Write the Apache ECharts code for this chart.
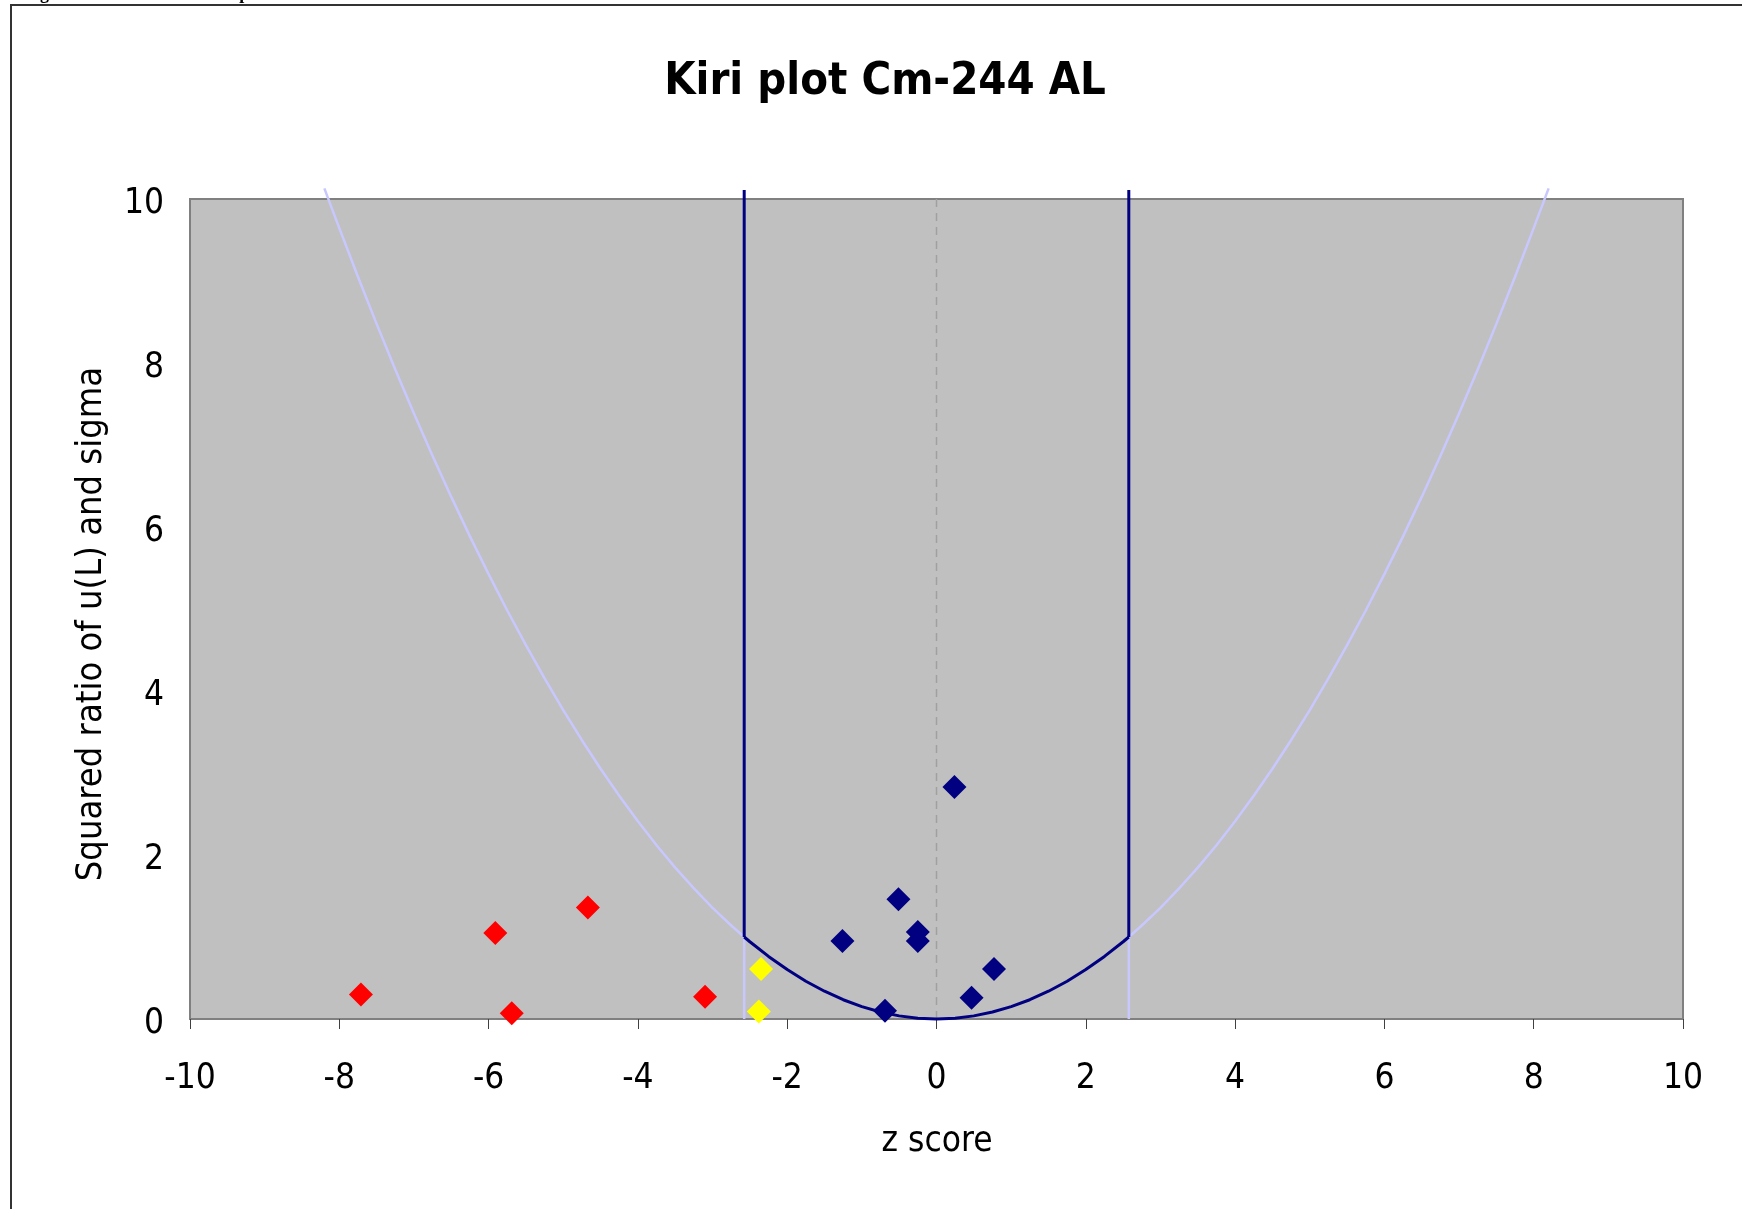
<!DOCTYPE html>
<html>
<head>
<meta charset="utf-8">
<script src="https://cdn.jsdelivr.net/npm/echarts@6/dist/echarts.min.js"></script>
<style>
html,body{margin:0;padding:0;background:#fff;}
#chart{width:1742px;height:1209px;}
</style>
</head>
<body>
<div id="chart"></div>
<script>
// ---- data ----
const titleText = 'Kiri plot Cm-244 AL';
const xAxisTitle = 'z score';
const yAxisTitle = 'Squared ratio of u(L) and sigma';
const captionText = 'Figure 13: Cm-244 AL Kiri plot';

const redPoints = [[-7.71,0.30],[-5.91,1.05],[-4.67,1.36],[-5.69,0.07],[-3.10,0.27]];
const yellowPoints = [[-2.35,0.61],[-2.38,0.09]];
const navyPoints = [[0.24,2.83],[-0.51,1.46],[-0.25,1.06],[-0.25,0.95],[-1.26,0.95],[0.77,0.61],[0.47,0.26],[-0.69,0.10]];

const leftCurve = [[-8.2,10.13],[-8.0,9.645],[-7.75,9.051],[-7.5,8.477],[-7.25,7.921],[-7.0,7.384],[-6.75,6.866],[-6.5,6.367],[-6.25,5.886],[-6.0,5.425],[-5.75,4.982],[-5.5,4.559],[-5.25,4.154],[-5.0,3.767],[-4.75,3.400],[-4.5,3.052],[-4.25,2.722],[-4.0,2.411],[-3.75,2.119],[-3.5,1.846],[-3.25,1.592],[-3.0,1.356],[-2.75,1.140],[-2.576,1.0]];
const middleCurve = [[-2.576,1.0],[-2.5,0.942],[-2.25,0.763],[-2.0,0.603],[-1.75,0.461],[-1.5,0.339],[-1.25,0.235],[-1.0,0.151],[-0.75,0.085],[-0.5,0.038],[-0.25,0.009],[0,0],[0.25,0.009],[0.5,0.038],[0.75,0.085],[1.0,0.151],[1.25,0.235],[1.5,0.339],[1.75,0.461],[2.0,0.603],[2.25,0.763],[2.5,0.942],[2.576,1.0]];
const rightCurve = [[2.576,1.0],[2.75,1.140],[3.0,1.356],[3.25,1.592],[3.5,1.846],[3.75,2.119],[4.0,2.411],[4.25,2.722],[4.5,3.052],[4.75,3.400],[5.0,3.767],[5.25,4.154],[5.5,4.559],[5.75,4.982],[6.0,5.425],[6.25,5.886],[6.5,6.367],[6.75,6.866],[7.0,7.384],[7.25,7.921],[7.5,8.477],[7.75,9.051],[8.0,9.645],[8.2,10.13]];
const leftLimitUpper = [[-2.576,1.0],[-2.576,10.11]];
const rightLimitUpper = [[2.576,1.0],[2.576,10.11]];
const leftLimitLower = [[-2.576,0],[-2.576,1.0]];
const rightLimitLower = [[2.576,0],[2.576,1.0]];
const zeroLine = [[0,0],[0,10]];

const xMin = -10, xMax = 10, xStep = 2;
const yMin = 0, yMax = 10, yStep = 2;

// ---- styles ----
const FONT = "'DejaVu Sans Condensed', 'DejaVu Sans', sans-serif";
const LIGHT = '#C8C8FF';
const NAVY = '#000080';

const chart = echarts.init(document.getElementById('chart'), null, {renderer: 'canvas'});

function lineSeries(data, color, width, type) {
  return {
    type: 'line', data: data, symbol: 'none', clip: false, silent: true,
    lineStyle: {color: color, width: width, type: type || 'solid'},
    z: 2
  };
}
function scatterSeries(data, color) {
  return {
    type: 'scatter', data: data, symbol: 'diamond', symbolSize: 24,
    itemStyle: {color: color, opacity: 1}, z: 5
  };
}

chart.setOption({
  animation: false,
  backgroundColor: '#fff',
  title: {
    text: titleText, left: 880, textAlign: 'center', top: 55,
    textStyle: {fontFamily: FONT, fontWeight: 'bold', fontSize: 45, color: '#000'}
  },
  grid: {
    left: 190, right: 59, top: 199, bottom: 190,
    show: true, backgroundColor: '#C0C0C0', borderColor: '#808080', borderWidth: 2
  },
  xAxis: {
    type: 'value', min: xMin, max: xMax, interval: xStep,
    axisLine: {show: true, onZero: false, lineStyle: {color: '#808080', width: 2}},
    axisTick: {show: true, inside: false, length: 10, lineStyle: {color: '#404040', width: 1}},
    axisLabel: {fontFamily: FONT, fontSize: 35, color: '#000', margin: 42},
    splitLine: {show: false}
  },
  yAxis: {
    type: 'value', min: yMin, max: yMax, interval: yStep,
    axisLine: {show: false},
    axisTick: {show: false},
    axisLabel: {
      margin: 26,
      formatter: '{a|{value}}',
      rich: {a: {fontFamily: FONT, fontSize: 35, color: '#000', padding: [9, 0, 0, 0]}}
    },
    splitLine: {show: false}
  },
  graphic: [
    {type: 'rect', shape: {x: 11, y: 5, width: 1900, height: 1400},
     style: {fill: 'none', stroke: '#333', lineWidth: 2}, silent: true},
    {type: 'text', x: 24, y: -6,
     style: {text: captionText, font: "bold 18px 'Liberation Serif', serif", fill: '#000', verticalAlign: 'middle'}},
    {type: 'text', x: 937, y: 1142,
     style: {text: xAxisTitle, font: '35px ' + FONT, fill: '#000', align: 'center', verticalAlign: 'middle'}},
    {type: 'text', x: 92, y: 624, rotation: Math.PI / 2,
     style: {text: yAxisTitle, font: '36px ' + FONT, fill: '#000', align: 'center', verticalAlign: 'middle'}}
  ],
  series: [
    lineSeries(zeroLine, '#A0A0A0', 1.5, [8, 6]),
    lineSeries(leftCurve, LIGHT, 2.5),
    lineSeries(rightCurve, LIGHT, 2.5),
    lineSeries(leftLimitLower, LIGHT, 2.5),
    lineSeries(rightLimitLower, LIGHT, 2.5),
    lineSeries(middleCurve, NAVY, 3),
    lineSeries(leftLimitUpper, NAVY, 3),
    lineSeries(rightLimitUpper, NAVY, 3),
    scatterSeries(redPoints, '#FF0000'),
    scatterSeries(yellowPoints, '#FFFF00'),
    scatterSeries(navyPoints, NAVY)
  ]
});
</script>
</body>
</html>
